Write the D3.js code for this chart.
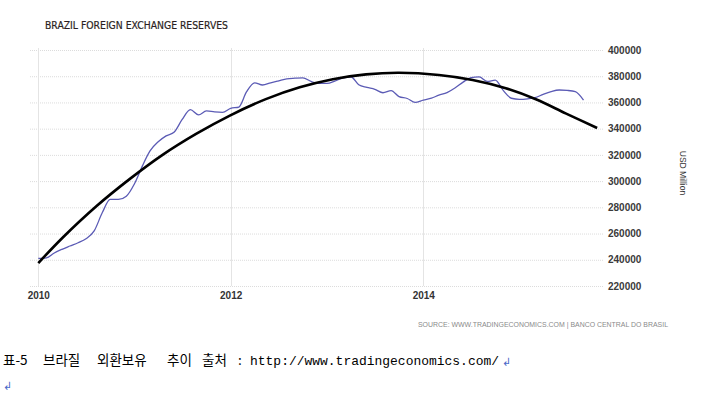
<!DOCTYPE html>
<html>
<head>
<meta charset="utf-8">
<script src="https://cdn.jsdelivr.net/npm/d3@7"></script>
<style>
  body { margin: 0; background: #fff; }
  svg { display: block; }
</style>
</head>
<body>
<svg id="chart"></svg>
<script>
let width = 703;
let height = 393;

// monthly reserves, Jan 2010 .. Sep 2015 (USD million)
let startYear = 2010;
let reserves = [
  241000, 241500, 245000, 248000, 250500, 253000, 256000, 262000, 276000, 286000,
  286000, 288500, 298000, 312000, 323000, 330000, 334500, 337500, 347000, 354500,
  350500, 353500, 352800, 352500, 355500, 356500, 368000, 375000, 373300, 375000,
  376500, 378000, 378500, 378800, 376000, 374500, 374500, 376500, 378500, 379600,
  373500, 371500, 370000, 367400, 369000, 364400, 363000, 360000, 361800, 363300,
  365500, 367500, 371000, 375500, 379000, 379500, 376000, 377000, 369000, 363200,
  362400, 362800, 363600, 366200, 368300, 369500, 369200, 368200, 361800
];
// trend curve (months since Jan 2010)
let trendMonths = [0, 3.1, 7.3, 11.4, 15.6, 19.7, 23.9, 28.4, 32.6, 36.7, 40.9, 45, 50, 54.2, 58.3, 62.1, 65.8, 69.7];
let trendValues = [237500, 257000, 281000, 301500, 320200, 336000, 350000, 362500, 371500, 377700, 381400, 382600, 380900, 377100, 370800, 362400, 351700, 340500];

let yearTicks = [2010, 2012, 2014];
let valueTicks = [220000, 240000, 260000, 280000, 300000, 320000, 340000, 360000, 380000, 400000];

let title = 'BRAZIL FOREIGN EXCHANGE RESERVES';
let unitLabel = 'USD Million';
let sourceText = 'SOURCE: WWW.TRADINGECONOMICS.COM | BANCO CENTRAL DO BRASIL';
let captionWords = ['표-5', '브라질', '외환보유', '추이', '출처', ':'];
let captionUrl = 'http://www.tradingeconomics.com/';

let plot = {'left': 30, 'right': 603, 'top': 50, 'bottom': 286};
let xScale, yScale, svg;

function monthToDate(m) {
    let whole = Math.floor(m);
    let d = new Date(startYear, whole, 1);
    let next = new Date(startYear, whole + 1, 1);
    return new Date(+d + (m - whole) * (next - d));
}

function draw() {
    svg = d3.select('#chart')
        .attr('width', width)
        .attr('height', height);

    xScale = d3.scaleTime()
        .domain([new Date(2010, 0, 1), new Date(2014, 0, 1)])
        .range([38.3, 423.3]);
    yScale = d3.scaleLinear()
        .domain([220000, 400000])
        .range([plot.bottom, plot.top]);

    // horizontal grid
    svg.append('g')
        .selectAll('line')
        .data(valueTicks)
        .join('line')
        .attr('x1', plot.left)
        .attr('x2', plot.right)
        .attr('y1', d => yScale(d) + 0.5)
        .attr('y2', d => yScale(d) + 0.5)
        .attr('stroke', '#dcdcdc')
        .attr('stroke-dasharray', '1,1');

    // vertical grid
    svg.append('g')
        .selectAll('line')
        .data(yearTicks)
        .join('line')
        .attr('x1', d => Math.round(xScale(new Date(d, 0, 1))) + 0.5)
        .attr('x2', d => Math.round(xScale(new Date(d, 0, 1))) + 0.5)
        .attr('y1', plot.top - 2)
        .attr('y2', plot.bottom)
        .attr('stroke', '#e4e4e4');

    // x axis labels
    let xAxis = svg.append('g')
        .attr('transform', `translate(0, ${plot.bottom})`)
        .call(d3.axisBottom(xScale)
            .tickValues(yearTicks.map(y => new Date(y, 0, 1)))
            .tickFormat(d3.timeFormat('%Y'))
            .tickSize(0)
            .tickPadding(6));
    xAxis.select('.domain').remove();
    xAxis.selectAll('text')
        .attr('font-family', 'Liberation Sans, Arial, sans-serif')
        .attr('font-weight', 'bold')
        .attr('font-size', 10)
        .attr('fill', '#333');

    // y axis labels on the right
    let yAxis = svg.append('g')
        .attr('transform', `translate(${plot.right}, 0)`)
        .call(d3.axisRight(yScale)
            .tickValues(valueTicks)
            .tickFormat(d3.format('d'))
            .tickSize(0)
            .tickPadding(5));
    yAxis.select('.domain').remove();
    yAxis.selectAll('text')
        .attr('font-family', 'Liberation Sans, Arial, sans-serif')
        .attr('font-weight', 'bold')
        .attr('font-size', 10)
        .attr('fill', '#3a3a3a');

    // data line
    let line = d3.line()
        .x((d, i) => xScale(monthToDate(i)))
        .y(d => yScale(d))
        .curve(d3.curveMonotoneX);
    svg.append('path')
        .datum(reserves)
        .attr('d', line)
        .attr('fill', 'none')
        .attr('stroke', '#5b5bb5')
        .attr('stroke-width', 1.3);

    // trend
    let trendLine = d3.line()
        .x((d, i) => xScale(monthToDate(trendMonths[i])))
        .y(d => yScale(d))
        .curve(d3.curveCatmullRom);
    svg.append('path')
        .datum(trendValues)
        .attr('d', trendLine)
        .attr('fill', 'none')
        .attr('stroke', '#000')
        .attr('stroke-width', 2.6);

    // title
    svg.append('text')
        .attr('x', 45)
        .attr('y', 29)
        .attr('font-family', 'DejaVu Sans, Verdana, sans-serif')
        .attr('font-size', 10)
        .attr('textLength', 183)
        .attr('lengthAdjust', 'spacingAndGlyphs')
        .attr('fill', '#2a1e22')
        .attr('stroke', '#2a1e22')
        .attr('stroke-width', 0.2)
        .text(title);

    // unit label
    svg.append('text')
        .attr('transform', 'translate(680, 173) rotate(90)')
        .attr('text-anchor', 'middle')
        .attr('font-family', 'Liberation Sans, Arial, sans-serif')
        .attr('font-size', 8.5)
        .attr('fill', '#333')
        .text(unitLabel);

    // source
    svg.append('text')
        .attr('x', 418)
        .attr('y', 327)
        .attr('font-family', 'Liberation Sans, Arial, sans-serif')
        .attr('font-size', 7)
        .attr('textLength', 250)
        .attr('lengthAdjust', 'spacingAndGlyphs')
        .attr('fill', '#8a8a8a')
        .text(sourceText);

    // caption under the chart
    let wordX = [3, 43, 97, 167, 202, 238];
    let caption = svg.append('g');
    caption.selectAll('text')
        .data(captionWords)
        .join('text')
        .attr('x', (d, i) => wordX[i])
        .attr('y', 365)
        .attr('font-family', 'Noto Sans CJK KR, sans-serif')
        .attr('font-size', 13.5)
        .attr('fill', '#000')
        .text(d => d);
    caption.append('text')
        .attr('x', 250)
        .attr('y', 365)
        .attr('font-family', 'Liberation Mono, Courier New, monospace')
        .attr('font-size', 13)
        .attr('textLength', 249)
        .attr('lengthAdjust', 'spacingAndGlyphs')
        .attr('fill', '#000')
        .text(captionUrl);
    caption.selectAll('.ret')
        .data([[502, 366], [3, 390]])
        .join('text')
        .attr('class', 'ret')
        .attr('x', d => d[0])
        .attr('y', d => d[1])
        .attr('font-family', 'DejaVu Sans, sans-serif')
        .attr('font-size', 11)
        .attr('fill', '#4a68c8')
        .text('\u21B2');
}

function main() {
    draw();
}

main()
</script>
</body>
</html>
